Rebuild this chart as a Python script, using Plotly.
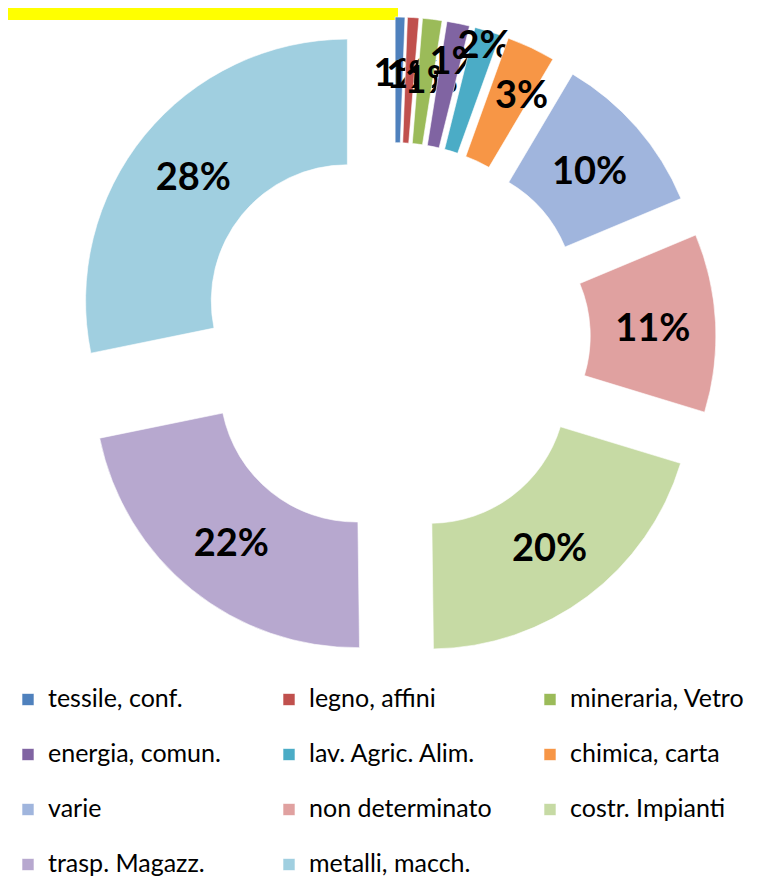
import plotly.graph_objects as go

categories = ["tessile, conf.", "legno, affini", "mineraria, Vetro", "energia, comun.",
              "lav. Agric. Alim.", "chimica, carta", "varie", "non determinato",
              "costr. Impianti", "trasp. Magazz.", "metalli, macch."]
values = [0.6, 0.7, 1.2, 1.4, 1.6, 3.0, 10.2, 11.0, 20.1, 22.0, 28.2]
colors = ["#4F81BD", "#C0504D", "#9BBB59", "#8064A2", "#4BACC6", "#F79646",
          "#A0B5DD", "#E0A1A0", "#C6DAA4", "#B7A8CF", "#A0CFE0"]

W, H = 780, 879
legend_labels = [" <br><span style='font-size:25px'>" + c + "</span>" for c in categories]

pct = "%{percent:.0%}"
# blank lines nudge the crowded small-slice labels into the ring, as in the reference
templates = [" <br> <br>" + pct, " <br> <br>" + pct, " <br> <br>" + pct, " <br>" + pct,
             pct, " <br>" + pct, pct, pct, pct, pct, pct]

fig = go.Figure(go.Pie(
    labels=legend_labels, values=values, sort=False,
    direction="clockwise", rotation=0,
    hole=0.52, pull=[0.23] * len(values),
    marker=dict(colors=colors, line=dict(color="rgba(255,255,255,0.6)", width=1)),
    texttemplate=templates, textposition="inside", insidetextorientation="horizontal",
    textfont=dict(family="Lato", size=38, color="black", weight="bold"),
    domain=dict(x=[64 / W, 708 / W], y=[(H - 653) / H, (H - 9) / H]),
))

fig.update_layout(
    width=W, height=H, paper_bgcolor="white", plot_bgcolor="white",
    margin=dict(l=0, r=0, t=0, b=0),
    uniformtext=dict(minsize=37, mode="show"),
    legend=dict(orientation="h", x=0, y=3 / H, xanchor="left", yanchor="bottom",
                entrywidth=216, entrywidthmode="pixels", valign="bottom",
                font=dict(family="Lato", size=20, color="black")),
    shapes=[dict(type="rect", xref="paper", yref="paper", x0=0, x1=390 / W,
                 y0=1 - 12 / H, y1=1.0, fillcolor="#FFFF00", line=dict(width=0), layer="below")],
)

fig.write_html("out.html")
